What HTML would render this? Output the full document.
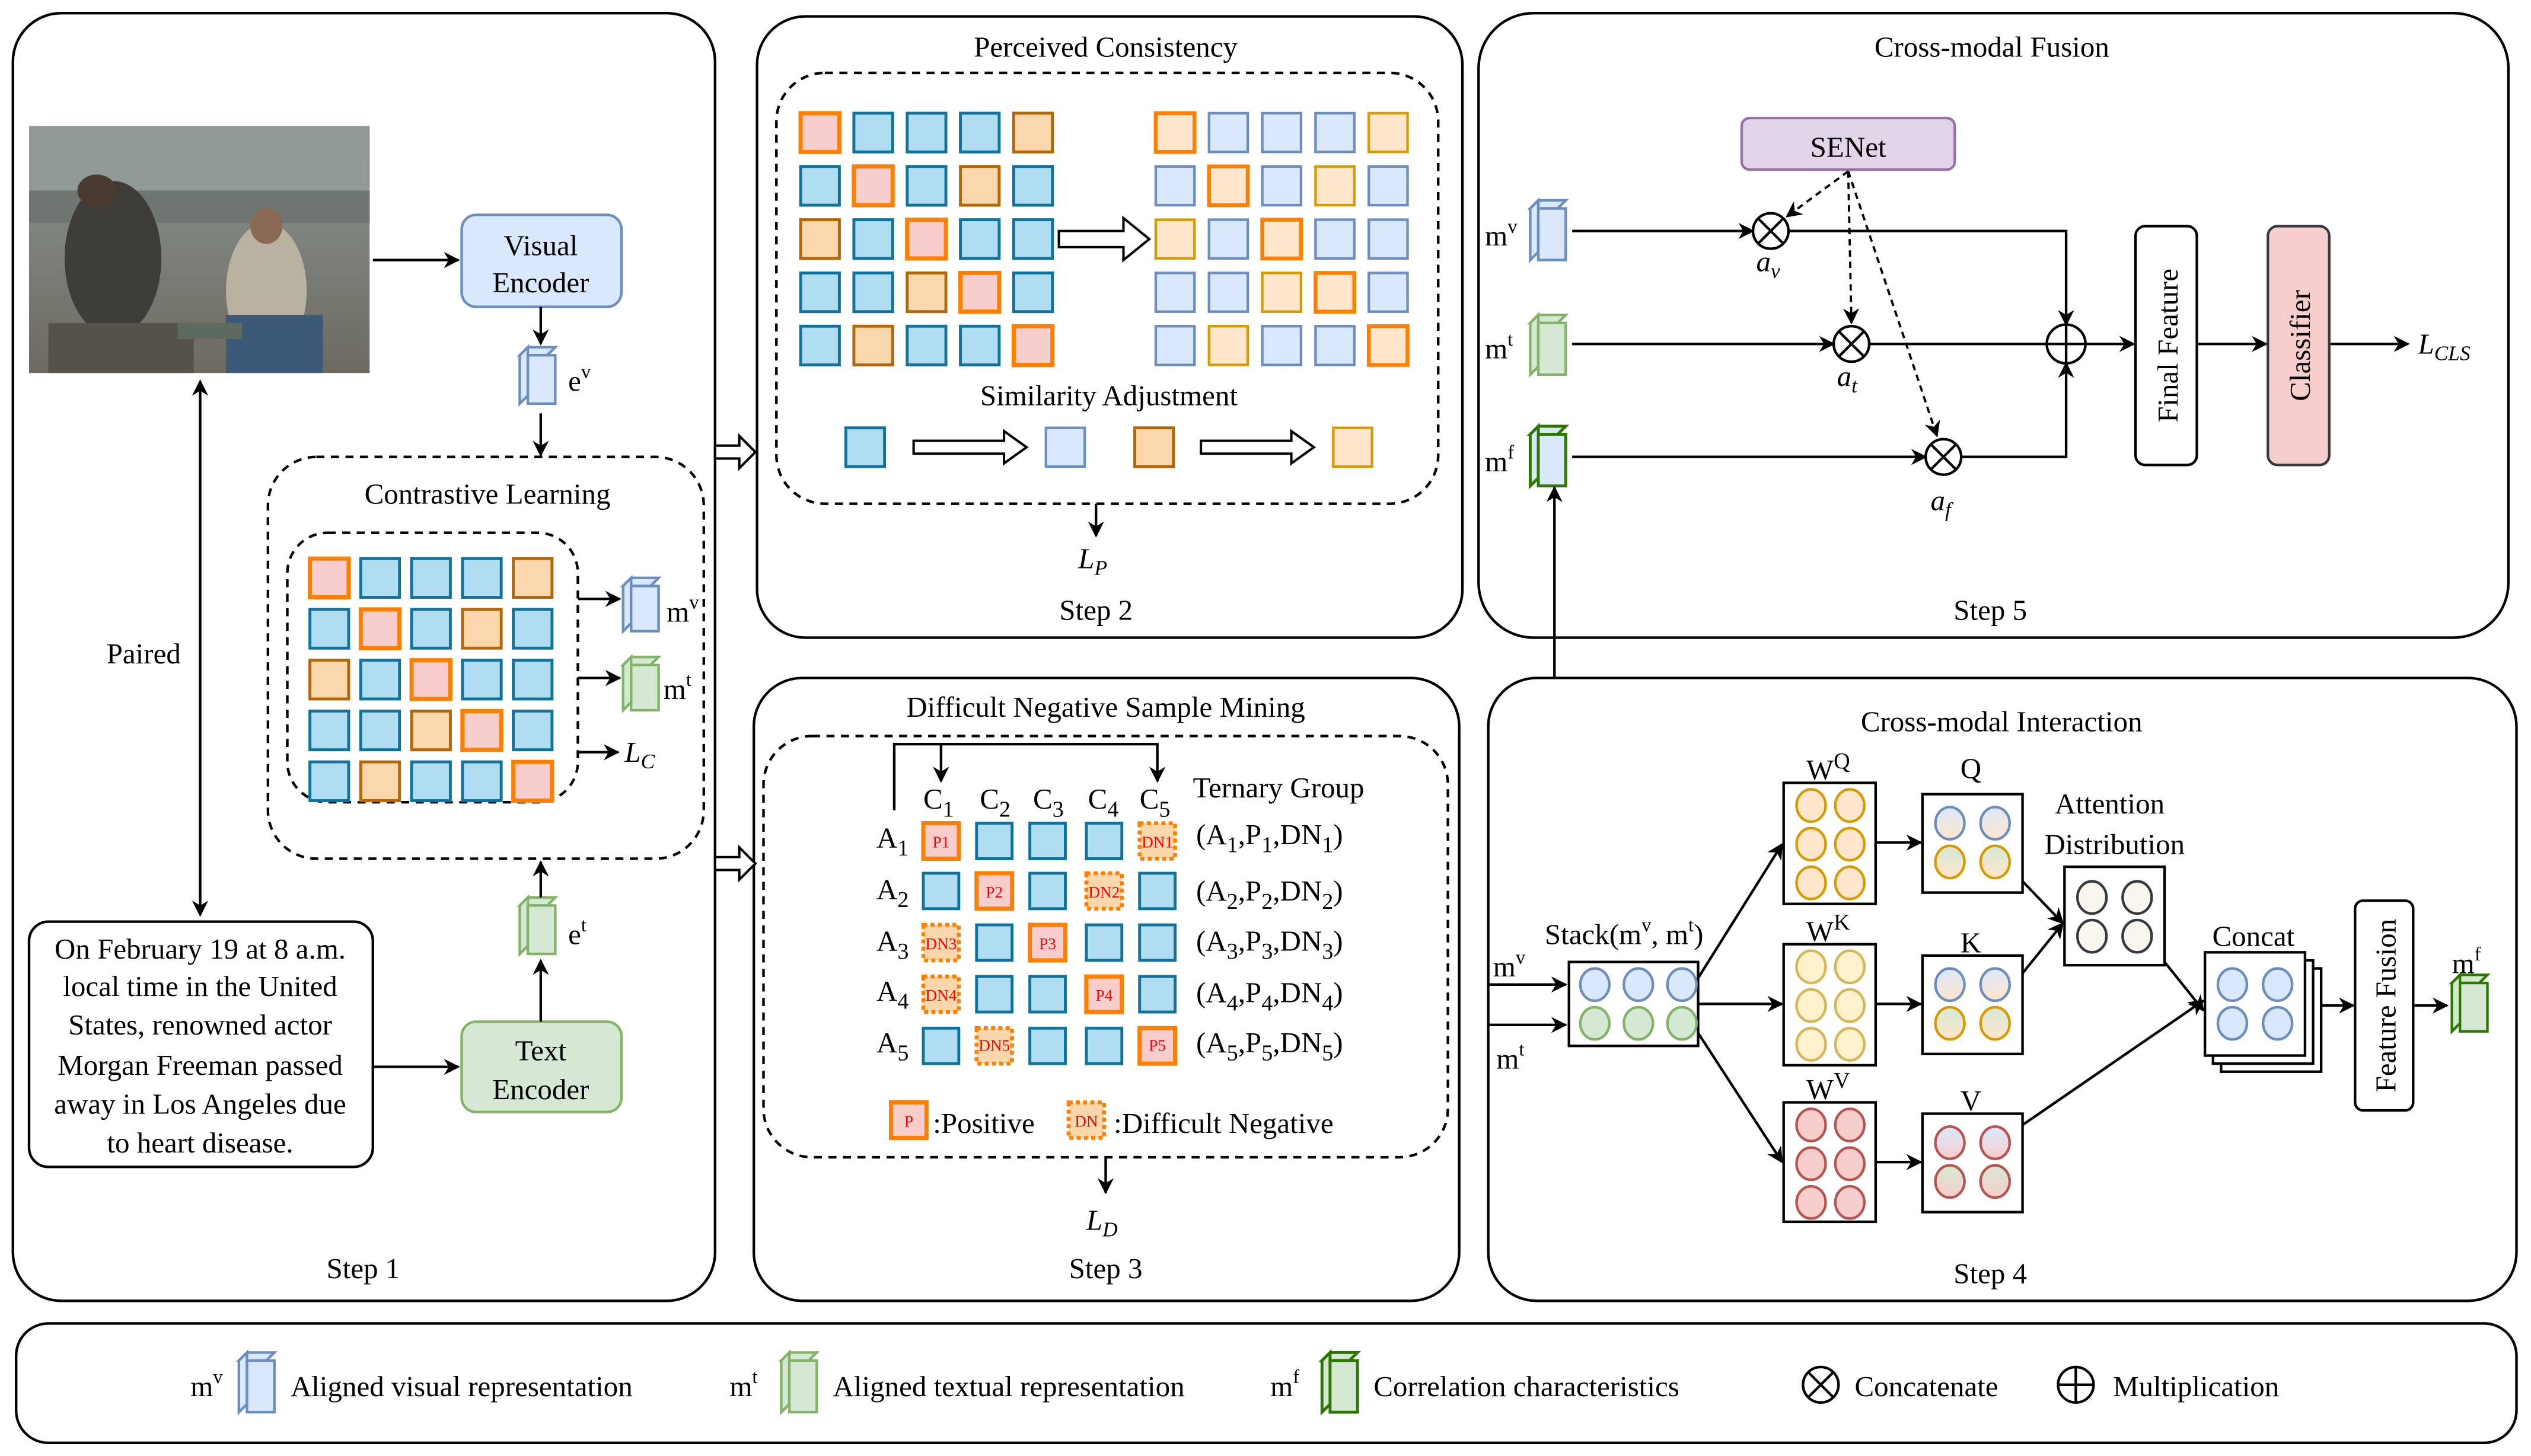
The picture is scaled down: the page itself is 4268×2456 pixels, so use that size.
<!DOCTYPE html>
<html><head><meta charset="utf-8">
<style>
html,body{margin:0;padding:0;background:#fff}
svg{display:block}
text{font-family:"Liberation Serif","Times New Roman",serif;fill:#000}
</style></head><body>
<svg id="s" width="4268" height="2456" viewBox="0 0 1568 902" xmlns="http://www.w3.org/2000/svg">
<defs>
<marker id="a" markerWidth="10" markerHeight="10" refX="9" refY="5" orient="auto" markerUnits="userSpaceOnUse"><path d="M0,0 L10,5 L0,10 L3,5 z" fill="#000"/></marker>
<marker id="b" markerWidth="10" markerHeight="10" refX="1" refY="5" orient="auto" markerUnits="userSpaceOnUse"><path d="M10,0 L0,5 L10,10 L7,5 z" fill="#000"/></marker>
<linearGradient id="ph" x1="0" y1="0" x2="0" y2="1"><stop offset="0" stop-color="#8d948f"/><stop offset="0.5" stop-color="#7c807a"/><stop offset="1" stop-color="#6d6a60"/></linearGradient>
<linearGradient id="gq" x1="0" y1="0" x2="0" y2="1"><stop offset="0" stop-color="#dae8fc"/><stop offset="1" stop-color="#ffe6cc"/></linearGradient>
<linearGradient id="gq2" x1="0" y1="0" x2="0" y2="1"><stop offset="0" stop-color="#d5e8d4"/><stop offset="1" stop-color="#ffe6cc"/></linearGradient>
<linearGradient id="gv" x1="0" y1="0" x2="0" y2="1"><stop offset="0" stop-color="#dae8fc"/><stop offset="1" stop-color="#f8cecc"/></linearGradient>
<linearGradient id="gv2" x1="0" y1="0" x2="0" y2="1"><stop offset="0" stop-color="#d5e8d4"/><stop offset="1" stop-color="#f8cecc"/></linearGradient>
</defs>
<g fill="none" stroke="#000" stroke-width="1.6">
<rect x="8" y="8" width="435" height="798" rx="30"/>
<rect x="469" y="10" width="437" height="385" rx="30"/>
<rect x="467" y="420" width="437" height="386" rx="30"/>
<rect x="916" y="8" width="638" height="387" rx="34"/>
<rect x="922" y="420" width="637" height="386" rx="30"/>
<rect x="10" y="820" width="1549" height="74" rx="20"/>
</g>
<g fill="none" stroke="#000" stroke-width="1.6" stroke-dasharray="5,4">
<rect x="166" y="283" width="270" height="249" rx="30"/>
<rect x="178" y="330" width="180" height="167" rx="25"/>
<rect x="481" y="45" width="410" height="267" rx="30"/>
<rect x="473" y="456" width="424" height="261" rx="30"/>
</g>
<!-- photo -->
<rect x="18" y="78" width="211" height="153" fill="url(#ph)"/>
<rect x="18" y="78" width="211" height="45" fill="#8f9995"/>
<rect x="18" y="118" width="211" height="20" fill="#6f7570"/>
<ellipse cx="70" cy="160" rx="30" ry="48" fill="#3d3c38"/>
<ellipse cx="60" cy="118" rx="12" ry="10" fill="#4a3a30"/>
<ellipse cx="165" cy="180" rx="25" ry="42" fill="#b9b2a0"/>
<ellipse cx="165" cy="140" rx="10" ry="11" fill="#8a6a55"/>
<rect x="140" y="195" width="60" height="36" fill="#3c5a78"/>
<rect x="30" y="200" width="90" height="31" fill="#56524a"/>
<rect x="110" y="200" width="40" height="10" fill="#5e6a60"/>
<g id="gen"></g>
<!-- step1 boxes -->
<rect x="286" y="133" width="99" height="57" rx="9" fill="#dae8fc" stroke="#6c8ebf" stroke-width="1.6"/>
<text x="335" y="158" font-size="18" text-anchor="middle">Visual</text>
<text x="335" y="181" font-size="18" text-anchor="middle">Encoder</text>
<rect x="286" y="633" width="99" height="56" rx="9" fill="#d5e8d4" stroke="#82b366" stroke-width="1.6"/>
<text x="335" y="657" font-size="18" text-anchor="middle">Text</text>
<text x="335" y="681" font-size="18" text-anchor="middle">Encoder</text>
<rect x="18" y="571" width="213" height="152" rx="12" fill="#fff" stroke="#000" stroke-width="1.6"/>
<g font-size="18" text-anchor="middle">
<text x="124" y="594">On February 19 at 8 a.m.</text>
<text x="124" y="617">local time in the United</text>
<text x="124" y="641">States, renowned actor</text>
<text x="124" y="666">Morgan Freeman passed</text>
<text x="124" y="690">away in Los Angeles due</text>
<text x="124" y="714">to heart disease.</text>
</g>
<g stroke="#000" stroke-width="1.6" fill="none">
<line x1="231" y1="161" x2="284" y2="161" marker-end="url(#a)"/>
<line x1="335" y1="190" x2="335" y2="213" marker-end="url(#a)"/>
<line x1="335" y1="256" x2="335" y2="282" marker-end="url(#a)"/>
<line x1="124" y1="236" x2="124" y2="567" marker-end="url(#a)" marker-start="url(#b)"/>
<line x1="231" y1="661" x2="284" y2="661" marker-end="url(#a)"/>
<line x1="335" y1="633" x2="335" y2="595" marker-end="url(#a)"/>
<line x1="335" y1="556" x2="335" y2="534" marker-end="url(#a)"/>
<line x1="358" y1="371" x2="384" y2="371" marker-end="url(#a)"/>
<line x1="358" y1="420" x2="384" y2="420" marker-end="url(#a)"/>
<line x1="358" y1="466" x2="383" y2="466" marker-end="url(#a)"/>
</g>
<text x="352" y="242" font-size="18">e<tspan dy="-8" font-size="12">v</tspan></text>
<text x="352" y="585" font-size="18">e<tspan dy="-8" font-size="12">t</tspan></text>
<text x="413" y="385" font-size="18">m<tspan dy="-8" font-size="12">v</tspan></text>
<text x="411" y="433" font-size="18">m<tspan dy="-8" font-size="12">t</tspan></text>
<text x="387" y="472" font-size="18" font-style="italic">L<tspan dy="4" font-size="13">C</tspan></text>
<text x="302" y="312" font-size="18" text-anchor="middle">Contrastive Learning</text>
<text x="89" y="411" font-size="18" text-anchor="middle">Paired</text>
<text x="225" y="792" font-size="18" text-anchor="middle">Step 1</text>
<g fill="#fff" stroke="#000" stroke-width="1.5">
<path d="M443,276 h15 v-6 l10,10 l-10,10 v-6 h-15 z"/>
<path d="M443,531 h15 v-6 l10,10 l-10,10 v-6 h-15 z"/>
<path d="M656,143 h40 v-8 l16,13 l-16,13 v-8 h-40 z"/>
<path d="M566,273 h56 v-6 l14,10 l-14,10 v-6 h-56 z"/>
<path d="M744,273 h56 v-6 l14,10 l-14,10 v-6 h-56 z"/>
</g>
<text x="685" y="35" font-size="18" text-anchor="middle">Perceived Consistency</text>
<text x="687" y="251" font-size="18" text-anchor="middle">Similarity Adjustment</text>
<line x1="679" y1="312" x2="679" y2="332" stroke="#000" stroke-width="1.6" marker-end="url(#a)"/>
<text x="668" y="352" font-size="18" font-style="italic">L<tspan dy="4" font-size="13">P</tspan></text>
<text x="679" y="384" font-size="18" text-anchor="middle">Step 2</text>
<text x="685" y="444" font-size="18" text-anchor="middle">Difficult Negative Sample Mining</text>
<g stroke="#000" stroke-width="1.6" fill="none">
<polyline points="554,502 554,461 717,461 717,484" marker-end="url(#a)"/>
<line x1="583" y1="461" x2="583" y2="484" marker-end="url(#a)"/>
<line x1="685" y1="717" x2="685" y2="739" marker-end="url(#a)"/>
</g>
<g font-size="18">
<text x="572" y="501">C<tspan dy="5" font-size="14">1</tspan></text>
<text x="607" y="501">C<tspan dy="5" font-size="14">2</tspan></text>
<text x="640" y="501">C<tspan dy="5" font-size="14">3</tspan></text>
<text x="674" y="501">C<tspan dy="5" font-size="14">4</tspan></text>
<text x="706" y="501">C<tspan dy="5" font-size="14">5</tspan></text>
<text x="739" y="494">Ternary Group</text>
<text x="543" y="525">A<tspan dy="5" font-size="14">1</tspan></text>
<text x="543" y="557">A<tspan dy="5" font-size="14">2</tspan></text>
<text x="543" y="589">A<tspan dy="5" font-size="14">3</tspan></text>
<text x="543" y="620">A<tspan dy="5" font-size="14">4</tspan></text>
<text x="543" y="652">A<tspan dy="5" font-size="14">5</tspan></text>
<text x="741" y="523">(A<tspan dy="5" font-size="14">1</tspan><tspan dy="-5">,P</tspan><tspan dy="5" font-size="14">1</tspan><tspan dy="-5">,DN</tspan><tspan dy="5" font-size="14">1</tspan><tspan dy="-5">)</tspan></text>
<text x="741" y="558">(A<tspan dy="5" font-size="14">2</tspan><tspan dy="-5">,P</tspan><tspan dy="5" font-size="14">2</tspan><tspan dy="-5">,DN</tspan><tspan dy="5" font-size="14">2</tspan><tspan dy="-5">)</tspan></text>
<text x="741" y="589">(A<tspan dy="5" font-size="14">3</tspan><tspan dy="-5">,P</tspan><tspan dy="5" font-size="14">3</tspan><tspan dy="-5">,DN</tspan><tspan dy="5" font-size="14">3</tspan><tspan dy="-5">)</tspan></text>
<text x="741" y="621">(A<tspan dy="5" font-size="14">4</tspan><tspan dy="-5">,P</tspan><tspan dy="5" font-size="14">4</tspan><tspan dy="-5">,DN</tspan><tspan dy="5" font-size="14">4</tspan><tspan dy="-5">)</tspan></text>
<text x="741" y="652">(A<tspan dy="5" font-size="14">5</tspan><tspan dy="-5">,P</tspan><tspan dy="5" font-size="14">5</tspan><tspan dy="-5">,DN</tspan><tspan dy="5" font-size="14">5</tspan><tspan dy="-5">)</tspan></text>
<text x="578" y="702">:Positive</text>
<text x="690" y="702">:Difficult Negative</text>
</g>
<text x="673" y="762" font-size="18" font-style="italic">L<tspan dy="4" font-size="13">D</tspan></text>
<text x="685" y="792" font-size="18" text-anchor="middle">Step 3</text>
<g id="s3"></g>
<g font-size="10" text-anchor="middle">
<text x="583" y="525" style="fill:#f00">P1</text>
<text x="616" y="556" style="fill:#f00">P2</text>
<text x="649" y="588" style="fill:#f00">P3</text>
<text x="684" y="620" style="fill:#f00">P4</text>
<text x="717" y="651" style="fill:#f00">P5</text>
<text x="717" y="525" style="fill:#f00">DN1</text>
<text x="684" y="556" style="fill:#f00">DN2</text>
<text x="583" y="588" style="fill:#f00">DN3</text>
<text x="583" y="620" style="fill:#f00">DN4</text>
<text x="616" y="651" style="fill:#f00">DN5</text>
<text x="563" y="698" style="fill:#f00">P</text>
<text x="673" y="698" style="fill:#f00">DN</text>
</g>
<!-- step5 -->
<text x="1234" y="35" font-size="18" text-anchor="middle">Cross-modal Fusion</text>
<rect x="1079" y="73" width="132" height="32" rx="5" fill="#e1d5e7" stroke="#9673a6" stroke-width="1.6"/>
<text x="1145" y="97" font-size="18" text-anchor="middle">SENet</text>
<g stroke="#000" stroke-width="1.6" fill="none">
<line x1="974" y1="143" x2="1086" y2="143" marker-end="url(#a)"/>
<polyline points="1108,143 1280,143 1280,201" marker-end="url(#a)"/>
<line x1="974" y1="213" x2="1136" y2="213" marker-end="url(#a)"/>
<line x1="1158" y1="213" x2="1268" y2="213"/>
<line x1="974" y1="283" x2="1193" y2="283" marker-end="url(#a)"/>
<polyline points="1215,283 1280,283 1280,225" marker-end="url(#a)"/>
<line x1="1292" y1="213" x2="1322" y2="213" marker-end="url(#a)"/>
<line x1="1361" y1="213" x2="1404" y2="213" marker-end="url(#a)"/>
<line x1="1443" y1="213" x2="1492" y2="213" marker-end="url(#a)"/>
<line x1="963" y1="420" x2="963" y2="302" marker-end="url(#a)"/>
<circle cx="1097" cy="143" r="11"/><path d="M1089,135 L1105,151 M1105,135 L1089,151"/>
<circle cx="1147" cy="213" r="11"/><path d="M1139,205 L1155,221 M1155,205 L1139,221"/>
<circle cx="1204" cy="283" r="11"/><path d="M1196,275 L1212,291 M1212,275 L1196,291"/>
<circle cx="1280" cy="213" r="12"/><path d="M1268,213 H1292 M1280,201 V225"/>
</g>
<g stroke="#000" stroke-width="1.4" stroke-dasharray="4,3" fill="none">
<line x1="1145" y1="106" x2="1107" y2="134" marker-end="url(#a)"/>
<line x1="1145" y1="106" x2="1147" y2="200" marker-end="url(#a)"/>
<line x1="1145" y1="106" x2="1200" y2="270" marker-end="url(#a)"/>
</g>
<rect x="1323" y="140" width="38" height="148" rx="6" fill="#fff" stroke="#000" stroke-width="1.6"/>
<rect x="1405" y="140" width="38" height="148" rx="6" fill="#f8cecc" stroke="#36393d" stroke-width="1.6"/>
<text transform="translate(1349,214) rotate(-90)" font-size="18" text-anchor="middle">Final Feature</text>
<text transform="translate(1431,214) rotate(-90)" font-size="18" text-anchor="middle">Classifier</text>
<text x="1498" y="219" font-size="18" font-style="italic">L<tspan dy="4" font-size="13">CLS</tspan></text>
<text x="1088" y="168" font-size="18" font-style="italic">a<tspan dy="4" font-size="13">v</tspan></text>
<text x="1138" y="239" font-size="18" font-style="italic">a<tspan dy="4" font-size="13">t</tspan></text>
<text x="1196" y="316" font-size="18" font-style="italic">a<tspan dy="4" font-size="13">f</tspan></text>
<text x="920" y="152" font-size="18">m<tspan dy="-8" font-size="12">v</tspan></text>
<text x="920" y="222" font-size="18">m<tspan dy="-8" font-size="12">t</tspan></text>
<text x="920" y="292" font-size="18">m<tspan dy="-8" font-size="12">f</tspan></text>
<text x="1233" y="384" font-size="18" text-anchor="middle">Step 5</text>
<!-- step4 -->
<text x="1240" y="453" font-size="18" text-anchor="middle">Cross-modal Interaction</text>
<g stroke="#000" stroke-width="1.6" fill="#fff">
<rect x="972" y="596" width="80" height="52"/>
<rect x="1105" y="485" width="57" height="75"/>
<rect x="1105" y="585" width="57" height="75"/>
<rect x="1105" y="683" width="57" height="74"/>
<rect x="1191" y="492" width="62" height="61"/>
<rect x="1191" y="592" width="62" height="61"/>
<rect x="1191" y="690" width="62" height="61"/>
<rect x="1279" y="537" width="62" height="61"/>
<rect x="1376" y="600" width="62" height="64"/>
<rect x="1371" y="595" width="62" height="64"/>
<rect x="1366" y="590" width="62" height="64"/>
<rect x="1459" y="558" width="36" height="130" rx="5"/>
</g>
<g stroke="#000" stroke-width="1.6" fill="none">
<line x1="922" y1="610" x2="970" y2="610" marker-end="url(#a)"/>
<line x1="922" y1="635" x2="970" y2="635" marker-end="url(#a)"/>
<line x1="1052" y1="606" x2="1104" y2="523" marker-end="url(#a)"/>
<line x1="1052" y1="622" x2="1104" y2="622" marker-end="url(#a)"/>
<line x1="1052" y1="640" x2="1104" y2="720" marker-end="url(#a)"/>
<line x1="1162" y1="522" x2="1190" y2="522" marker-end="url(#a)"/>
<line x1="1162" y1="622" x2="1190" y2="622" marker-end="url(#a)"/>
<line x1="1162" y1="720" x2="1190" y2="720" marker-end="url(#a)"/>
<line x1="1253" y1="546" x2="1278" y2="572" marker-end="url(#a)"/>
<line x1="1253" y1="603" x2="1278" y2="572" marker-end="url(#a)"/>
<line x1="1341" y1="596" x2="1365" y2="626" marker-end="url(#a)"/>
<line x1="1253" y1="697" x2="1365" y2="620" marker-end="url(#a)"/>
<line x1="1438" y1="623" x2="1458" y2="623" marker-end="url(#a)"/>
<line x1="1495" y1="623" x2="1516" y2="623" marker-end="url(#a)"/>
</g>
<g id="top"></g>
<g font-size="18">
<text x="925" y="605">m<tspan dy="-8" font-size="12">v</tspan></text>
<text x="927" y="662">m<tspan dy="-8" font-size="12">t</tspan></text>
<text x="957" y="585">Stack(m<tspan dy="-8" font-size="12">v</tspan><tspan dy="8">, m</tspan><tspan dy="-8" font-size="12">t</tspan><tspan dy="8">)</tspan></text>
<text x="1119" y="483">W<tspan dy="-7" font-size="14">Q</tspan></text>
<text x="1119" y="583">W<tspan dy="-7" font-size="14">K</tspan></text>
<text x="1119" y="681">W<tspan dy="-7" font-size="14">V</tspan></text>
<text x="1221" y="482" text-anchor="middle">Q</text>
<text x="1221" y="590" text-anchor="middle">K</text>
<text x="1221" y="688" text-anchor="middle">V</text>
<text x="1307" y="504" text-anchor="middle">Attention</text>
<text x="1310" y="529" text-anchor="middle">Distribution</text>
<text x="1396" y="586" text-anchor="middle">Concat</text>
<text x="1528" y="603" text-anchor="middle">m<tspan dy="-8" font-size="12">f</tspan></text>
<text x="1233" y="795" text-anchor="middle">Step 4</text>
</g>
<text transform="translate(1484,623) rotate(-90)" font-size="18" text-anchor="middle">Feature Fusion</text>
<!-- legend -->
<g font-size="18">
<text x="118" y="865">m<tspan dy="-8" font-size="12">v</tspan></text>
<text x="180" y="865">Aligned visual representation</text>
<text x="452" y="865">m<tspan dy="-8" font-size="12">t</tspan></text>
<text x="516" y="865">Aligned textual representation</text>
<text x="787" y="865">m<tspan dy="-8" font-size="12">f</tspan></text>
<text x="851" y="865">Correlation characteristics</text>
<text x="1149" y="865">Concatenate</text>
<text x="1309" y="865">Multiplication</text>
</g>
<g stroke="#000" stroke-width="1.6" fill="none">
<circle cx="1128" cy="858" r="11"/><path d="M1120,850 L1136,866 M1136,850 L1120,866"/>
<circle cx="1286" cy="858" r="11"/><path d="M1275,858 H1297 M1286,847 V869"/>
</g>
</svg>
<script>
(function(){
var NS="http://www.w3.org/2000/svg",g=document.getElementById("gen"),g3=document.getElementById("s3"),tp=document.getElementById("top");
function el(p,t,a){var e=document.createElementNS(NS,t);for(var k in a)e.setAttribute(k,a[k]);p.appendChild(e);return e;}
var S={B:["#b1ddf0","#10739e",1.8],O:["#fad7ac","#b46504",1.8],P:["#f8cecc","#ff8000",2.6],
 b:["#dae8fc","#6c8ebf",1.6],o:["#ffe6cc","#d79b00",1.6],p:["#ffe6cc","#ff8000",2.4]};
function sq(p,x,y,s,t){var c=S[t];el(p,"rect",{x:x,y:y,width:s,height:s,fill:c[0],stroke:c[1],"stroke-width":c[2]});}
var pat=["PBBBO","BPBOB","OBPBB","BBOPB","BOBBP"];
function grid(x0,y0,sp,s,light){for(var r=0;r<5;r++)for(var c=0;c<5;c++){var t=pat[r][c];if(light)t=t.toLowerCase();sq(g,x0+c*sp,y0+r*sp,s,t);}}
grid(192,346,31.5,24,false);
grid(496,70,33,24,false);
grid(716,70,33,24,true);
sq(g,524,265,24,"B");sq(g,648,265,24,"b");sq(g,703,265,24,"O");sq(g,826,265,24,"o");
var p3=["PBBBD","BPBDB","DBPBB","DBBPB","BDBBP"],cx=[583,616,649,684,717],cy=[521,552,584,616,648];
function dn(x,y){el(g3,"rect",{x:x,y:y,width:22,height:22,fill:"#fad7ac",stroke:"#ff8000","stroke-width":2.4,"stroke-dasharray":"2.5,2"});}
for(var r=0;r<5;r++)for(var c=0;c<5;c++){var t=p3[r][c],x=cx[c]-11,y=cy[r]-11;
 if(t=="D")dn(x,y);else sq(g3,x,y,22,t);}
sq(g3,552,683,22,"P");dn(662,683);
function cube(x,y,w,h,d,f,s,sw){
 el(g,"path",{d:"M"+x+","+(y+d)+" l"+d+",-"+d+" h"+w+" l-"+d+","+d+" z",fill:f,stroke:s,"stroke-width":sw});
 el(g,"path",{d:"M"+x+","+(y+d)+" l"+d+",-"+d+" v"+h+" l-"+d+","+d+" z",fill:f,stroke:s,"stroke-width":sw});
 el(g,"rect",{x:x+d,y:y+d,width:w,height:h,fill:f,stroke:s,"stroke-width":sw});
}
var V=["#dae8fc","#6c8ebf"],T=["#d5e8d4","#82b366"];
cube(322,215,17,30,5,V[0],V[1],1.6);
cube(322,556,17,30,5,T[0],T[1],1.6);
cube(386,358,17,28,5,V[0],V[1],1.6);
cube(386,407,17,28,5,T[0],T[1],1.6);
cube(948,124,17,32,5,V[0],V[1],1.6);
cube(948,195,17,32,5,T[0],T[1],1.6);
cube(948,264,17,32,5,"#dae8fc","#2d7600",1.8);
cube(1519,604,17,30,5,T[0],"#2d7600",1.6);
cube(148,838,17,32,5,V[0],V[1],1.6);
cube(484,838,17,32,5,T[0],T[1],1.6);
cube(819,838,17,32,5,"#d5e8d4","#2d7600",1.8);
function ci(x,y,f,s){el(tp,"ellipse",{cx:x,cy:y,rx:9,ry:10,fill:f,stroke:s,"stroke-width":1.6});}
[988,1015,1042].forEach(function(x){ci(x,610,"#dae8fc","#6c8ebf");ci(x,634,"#d5e8d4","#82b366");});
[[499,"#ffe6cc","#d79b00"],[599,"#fff2cc","#d6b656"],[697,"#f8cecc","#b85450"]].forEach(function(a){
 for(var r=0;r<3;r++){ci(1122,a[0]+r*24,a[1],a[2]);ci(1146,a[0]+r*24,a[1],a[2]);}});
function q(x1,x2,y,t1,t2,s1,s2){ci(x1,y,t1,s1);ci(x2,y,t1,s1);ci(x1,y+24,t2,s2);ci(x2,y+24,t2,s2);}
q(1208,1236,510,"url(#gq)","url(#gq2)","#6c8ebf","#d79b00");
q(1208,1236,610,"url(#gq)","url(#gq2)","#6c8ebf","#d79b00");
q(1208,1236,708,"url(#gv)","url(#gv2)","#b85450","#b85450");
q(1296,1324,556,"#f9f7ed","#f9f7ed","#36393d","#36393d");
q(1383,1411,610,"#dae8fc","#dae8fc","#6c8ebf","#6c8ebf");
})();
</script>
</body></html>
